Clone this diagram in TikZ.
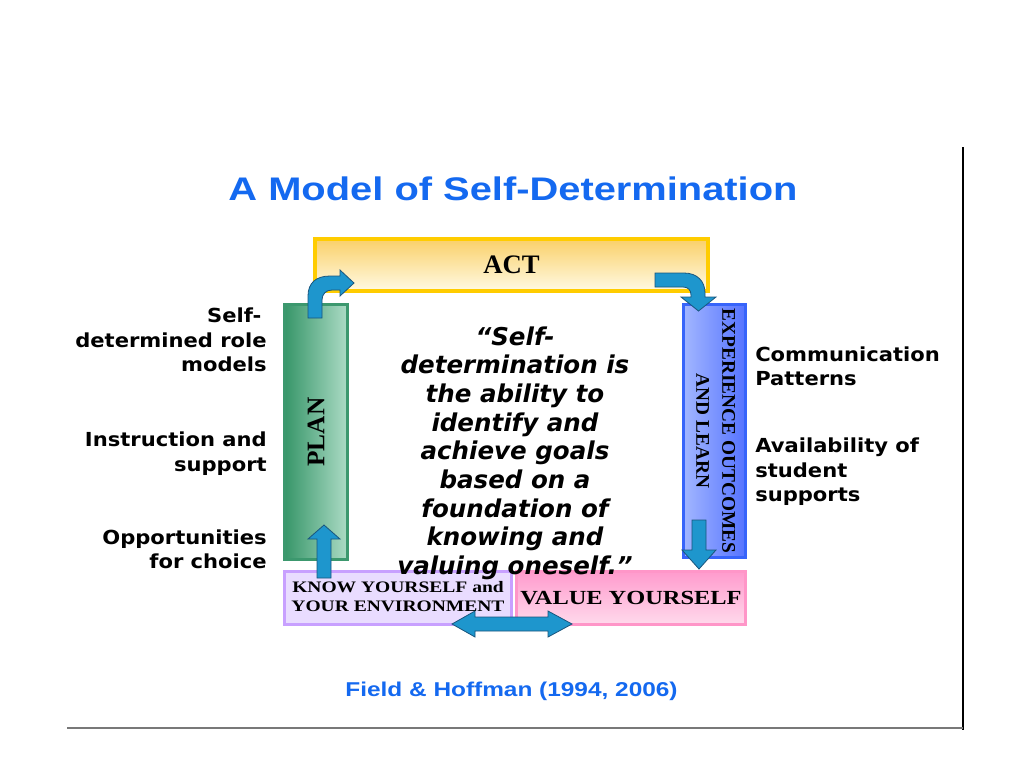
\documentclass[tikz,border=0pt]{standalone}
\usepackage{fontspec}
\usepackage{graphicx}
\newfontfamily\titlef[FakeStretch=1.22]{Liberation Sans}
\newfontfamily\labf[FakeStretch=1.09]{DejaVu Sans}
\newfontfamily\quotef{DejaVu Sans}
\newfontfamily\serf{Liberation Serif}
\newfontfamily\serw[FakeStretch=1.22]{Liberation Serif}
\definecolor{ttl}{RGB}{20,105,240}
\definecolor{arrfill}{RGB}{30,150,205}
\definecolor{arrline}{RGB}{25,85,125}
\definecolor{actline}{RGB}{255,204,0}
\definecolor{acttop}{RGB}{250,208,105}
\definecolor{actbot}{RGB}{255,250,228}
\definecolor{planline}{RGB}{60,152,110}
\definecolor{planleft}{RGB}{55,150,105}
\definecolor{planright}{RGB}{172,219,197}
\definecolor{expline}{RGB}{55,100,250}
\definecolor{expleft}{RGB}{162,182,255}
\definecolor{expright}{RGB}{85,115,255}
\definecolor{knowline}{RGB}{200,160,255}
\definecolor{knowfill}{RGB}{233,220,255}
\definecolor{valline}{RGB}{255,150,200}
\definecolor{valtop}{RGB}{255,155,205}
\definecolor{valbot}{RGB}{255,218,236}
\definecolor{lowline}{RGB}{120,120,120}
\tikzset{
  boxnode/.style={rectangle, inner sep=0pt},
  blockarrow/.style={fill=arrfill, draw=arrline, line width=0.6pt, line join=miter},
  sidelabel/.style={inner sep=0pt, font=\labf\bfseries\fontsize{14.5pt}{18.4pt}\selectfont},
  serbold/.style={font=\serf\bfseries\fontsize{#1}{1.2*#1}\selectfont},
}
\begin{document}
\begin{tikzpicture}[x=0.75pt,y=-0.75pt]
\useasboundingbox (0,0) rectangle (1024,768);
\fill[white] (0,0) rectangle (1024,768);

% title
\node[anchor=base, inner sep=0pt, text=ttl, font=\titlef\bfseries\fontsize{24.5pt}{28pt}\selectfont] (title) at (513,200) {A Model of Self-Determination};

% boxes
\node[boxnode, draw=actline, line width=3pt, top color=acttop, bottom color=actbot,
      minimum width=294.75pt, minimum height=39pt,
      font=\serf\bfseries\fontsize{20pt}{24pt}\selectfont] (act) at (511.5,265) {ACT};
\node[boxnode, draw=planline, line width=2.25pt, left color=planleft, right color=planright,
      minimum width=47.25pt, minimum height=191.25pt,
      font=\serf\bfseries\fontsize{19pt}{23pt}\selectfont] (plan) at (316,432) {\rotatebox{90}{PLAN}};
\node[boxnode, draw=expline, line width=2.25pt, left color=expleft, right color=expright,
      minimum width=46.5pt, minimum height=189.75pt,
      font=\serf\bfseries\fontsize{14.5pt}{19.5pt}\selectfont] (exp) at (714.5,431)
      {\rotatebox{-90}{\begin{tabular}{@{}c@{}}EXPERIENCE OUTCOMES\\AND LEARN\end{tabular}}};
\node[boxnode, draw=knowline, line width=2.25pt, fill=knowfill,
      minimum width=170.25pt, minimum height=39.75pt,
      font=\serw\bfseries\fontsize{12pt}{14.25pt}\selectfont] (know) at (398,598)
      {\begin{tabular}{@{}c@{}}KNOW YOURSELF and\\YOUR ENVIRONMENT\end{tabular}};
\node[boxnode, draw=valline, line width=2.25pt, top color=valtop, bottom color=valbot,
      minimum width=171.75pt, minimum height=39.75pt,
      font=\serw\bfseries\fontsize{15pt}{18pt}\selectfont] (value) at (631,598) {VALUE YOURSELF};

% block arrows
\draw[blockarrow] (308,318) -- (308,296) .. controls (308,283) and (316,276) .. (330,276)
  -- (340,276) -- (340,270) -- (354,283) -- (340,296) -- (340,290) -- (332,290)
  .. controls (326,290) and (322,294) .. (322,300) -- (322,318) -- cycle;
\draw[blockarrow] (655,273) -- (684,273) .. controls (697,273) and (705,281) .. (705,293)
  -- (705,297) -- (716,297) -- (698.5,311) -- (681,297) -- (691,297) -- (691,295)
  .. controls (691,290) and (688,287) .. (683,287) -- (655,287) -- cycle;
\draw[blockarrow] (317,578) -- (317,539) -- (308,539) -- (324,525) -- (340,539) -- (331,539) -- (331,578) -- cycle;
\draw[blockarrow] (692,520) -- (706,520) -- (706,550) -- (716,550) -- (699,569) -- (682,550) -- (692,550) -- cycle;
\draw[blockarrow] (452,624) -- (475,611) -- (475,617) -- (548,617) -- (548,611) -- (572,624)
  -- (548,637) -- (548,631) -- (475,631) -- (475,637) -- cycle;

% quote
\node[align=center, inner sep=0pt, font=\quotef\bfseries\itshape\fontsize{18.4pt}{21.5pt}\selectfont] (quote) at (515,453)
  {“Self-\\determination is\\the ability to\\identify and\\achieve goals\\based on a\\foundation of\\knowing and\\valuing oneself.”};

% side labels
\node[sidelabel, anchor=east, align=right] (l1) at (267,340) {Self-\rule{4pt}{0pt}\\determined role\\models};
\node[sidelabel, anchor=east, align=right] (l2) at (267,453.5) {Instruction and\\support};
\node[sidelabel, anchor=east, align=right] (l3) at (267,549.5) {Opportunities\\for choice};
\node[sidelabel, anchor=west, align=left] (r1) at (755,366.5) {Communication\\Patterns};
\node[sidelabel, anchor=west, align=left] (r2) at (755,472) {Availability of\\student\\supports};

% citation
\node[anchor=base, inner sep=0pt, text=ttl, font=\titlef\bfseries\fontsize{15pt}{18pt}\selectfont] (cite) at (511.5,696) {Field \& Hoffman (1994, 2006)};

% frame lines
\coordinate (ftop) at (963,147);
\coordinate (fcorner) at (963,730);
\coordinate (fleft) at (67,728);
\coordinate (fright) at (963,728);
\draw[line width=1.1pt] (ftop) -- (fcorner);
\draw[line width=1.3pt, draw=lowline] (fleft) -- (fright);
\end{tikzpicture}
\end{document}
